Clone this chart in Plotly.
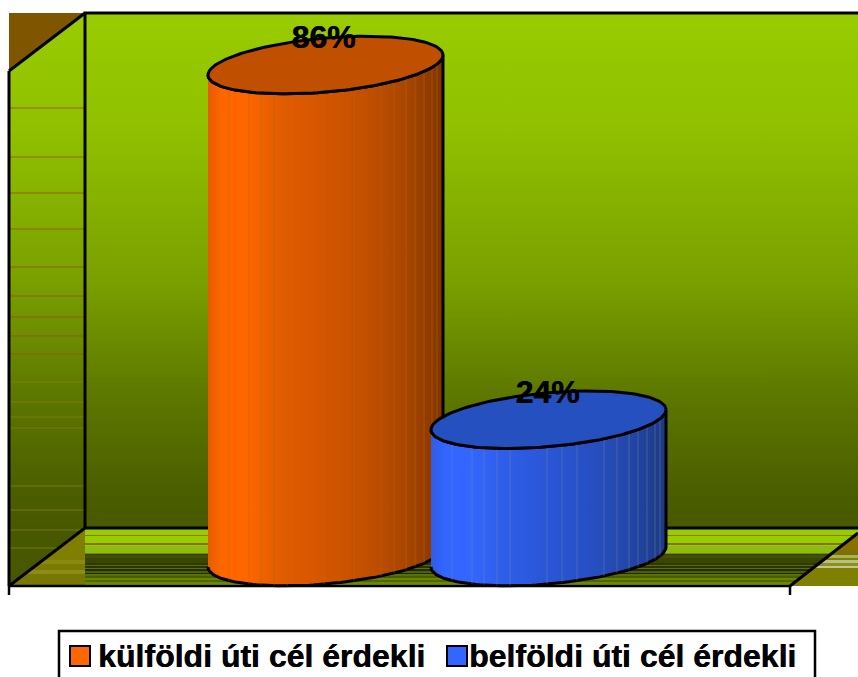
import numpy as np
import plotly.graph_objects as go

# ---------- data ----------
categories = ["külföldi úti cél érdekli", "belföldi úti cél érdekli"]
values = [86, 24]
labels = ["86%", "24%"]

# ---------- styling / layout helpers ----------
W, H = 858, 677
BASE_PX = 557.0      # pixel row of the value 0 level (centre of bottom ellipse)
PX_PER_UNIT = 5.72   # pixels per percent


def v(py):
    return (BASE_PX - py) / PX_PER_UNIT


centres = [325.5, 548.5]
A, B, K = 117.5, 27.0, 10.0
swatches = ["#FF6600", "#3366FF"]
top_cols = ["#C05000", "#2450C0"]
body_scales = [
    [[0, "#E65C00"], [0.06, "#FF6600"], [0.17, "#FF6600"], [0.3, "#E35C00"], [0.5, "#D45500"],
     [0.7, "#BF4E00"], [0.85, "#A84400"], [1, "#803400"]],
    [[0, "#2E5CE6"], [0.06, "#3366FF"], [0.17, "#3366FF"], [0.3, "#2E5EEA"], [0.5, "#2A56D6"],
     [0.7, "#264EC0"], [0.85, "#2246A8"], [1, "#1C3A84"]],
]
rib_cols = ["rgba(175,110,0,0.5)", "rgba(125,140,150,0.4)"]
rib_offsets = [21, 41, 53, 66, 79, 116, 131, 146, 173, 186, 198, 207, 216, 224, 229]

wall_stops = [(13, "#99CC00"), (130, "#90C000"), (280, "#7AA000"), (400, "#5C7600"),
              (500, "#4A5C00"), (528, "#485800")]
floor_bands = [
    (528, "#99CC00"), (535, "#8A7A00"), (536, "#99CC00"), (543, "#8A7000"), (545, "#99CC00"),
    (546, "#8DBB10"), (553, "#6F9000"), (554, "#333E00"), (555, "#445000"), (558, "#3A4500"),
    (563, "#2E3800"), (565, "#556A00"), (566, "#2A3400"), (568, "#5A7000"), (569, "#222C00"),
    (571, "#4D6000"), (573, "#1E2800"), (574, "#5A7000"), (576, "#4A5E00"), (578, "#6A8500"),
    (580, "#506600"), (582, "#6A8800"), (584, "#7F9F00"), (586, "#7F9F00"),
]
right_bands = [
    (528, "#99CC00"), (536, "#8A7000"), (550, "#807000"), (555, "#A8B060"), (558, "#808000"),
    (560, "#B8C080"), (563, "#909020"), (566, "#C0C890"), (568, "#808000"), (586, "#808000"),
]
left_bands = [
    (528, "#807F00"), (556, "#807F00"), (560, "#8A8A10"), (564, "#7A7A00"), (570, "#8C8C18"),
    (574, "#787800"), (586, "#808000"),
]
side_lines_brown = [108, 157, 193, 229, 267, 296, 317, 336, 354]
side_lines_pale = [382, 402, 417, 428, 486, 510, 530, 548]
legend_key_x = [80, 457]
legend_text_x = [97, 468]
LEGEND_Y = 656
HEAVY = "0.5px 0 0 #000000"


def hard_scale(bands):
    y0, y1 = bands[0][0], bands[-1][0]
    out = []
    for i, (y, c) in enumerate(bands[:-1]):
        out.append([(y - y0) / (y1 - y0), c])
        out.append([(bands[i + 1][0] - y0) / (y1 - y0), c])
    return out


def poly(xs, ys, **kw):
    return go.Scatter(x=xs, y=[v(p) for p in ys], mode="lines", fill="toself",
                      line=dict(width=0), hoverinfo="skip", showlegend=False, **kw)


def vgrad(stops):
    y0, y1 = stops[0][0], stops[-1][0]
    return dict(type="vertical", start=v(y0), stop=v(y1),
                colorscale=[[(y - y0) / (y1 - y0), c] for y, c in stops])


def line(xs, ys, width=3, color="#000000"):
    return go.Scatter(x=xs, y=[None if p is None else v(p) for p in ys], mode="lines",
                      line=dict(color=color, width=width), hoverinfo="skip", showlegend=False)


fig = go.Figure()

# walls
fig.add_trace(poly([85, 858, 858, 85], [13, 13, 528, 528], fillgradient=vgrad(wall_stops)))
fig.add_trace(poly([9, 85, 85, 9], [71, 13, 528, 586], fillgradient=vgrad(wall_stops)))
fig.add_trace(poly([9, 85, 9], [13, 13, 71], fillcolor="#7F5500"))

# side wall thin lines
xs, ys = [], []
for y in side_lines_brown:
    xs += [10, 84, None]
    ys += [y, y, None]
fig.add_trace(line(xs, ys, 1, "rgba(150,85,0,0.85)"))
xs, ys = [], []
for y in side_lines_pale:
    xs += [10, 84, None]
    ys += [y, y, None]
fig.add_trace(line(xs, ys, 1, "rgba(130,130,0,0.8)"))

# floor
fig.add_trace(poly([85, 858, 858, 790, 85], [528, 528, 533, 586, 586],
                   fillgradient=dict(type="vertical", start=v(528), stop=v(586),
                                     colorscale=hard_scale(floor_bands))))
fig.add_trace(poly([85, 9, 85], [528, 586, 586],
                   fillgradient=dict(type="vertical", start=v(528), stop=v(586),
                                     colorscale=hard_scale(left_bands))))
fig.add_trace(poly([858, 790, 858], [533, 586, 586],
                   fillgradient=dict(type="vertical", start=v(528), stop=v(586),
                                     colorscale=hard_scale(right_bands))))

# frame
fig.add_trace(line([858, 85, 85, 9, 9], [13, 13, 528, 586, 71], 3))
fig.add_trace(line([9, 85, None, 85, 858, None, 790, 858],
                   [71, 13, None, 528, 528, None, 586, 533], 3))
fig.add_trace(line([9, 790, None, 9, 9, None, 790, 790],
                   [586, 586, None, 586, 595, None, 586, 595], 2.5))

# cylinders
t = np.linspace(0, 2 * np.pi, 181)
for val, cx, scale, top, rib in zip(values, centres, body_scales, top_cols, rib_cols):
    ex = A * np.cos(t)
    ey = B * np.sin(t) - K * np.cos(t)          # pixel offsets, downward positive
    front = np.linspace(np.pi, 0, 91)
    fx = A * np.cos(front)
    fy = B * np.sin(front) - K * np.cos(front)
    body_x = list(cx + fx) + list(cx + fx[::-1])
    body_y = list(0 - fy / PX_PER_UNIT) + list(val - fy[::-1] / PX_PER_UNIT)
    fig.add_trace(go.Scatter(
        x=body_x, y=body_y, mode="lines", fill="toself", hoverinfo="skip", showlegend=False,
        line=dict(color="#000000", width=3),
        fillgradient=dict(type="horizontal", start=cx - A, stop=cx + A, colorscale=scale)))
    rx, ry = [], []
    for off in rib_offsets:
        c = (off - A) / A
        s = np.sqrt(1 - c * c)
        d = (B * s - K * c) / PX_PER_UNIT
        rx += [cx - A + off, cx - A + off, None]
        ry += [0 - d, val - d, None]
    fig.add_trace(go.Scatter(x=rx, y=ry, mode="lines", hoverinfo="skip", showlegend=False,
                             line=dict(color=rib, width=1)))
    fig.add_trace(go.Scatter(x=cx + ex, y=val - ey / PX_PER_UNIT, mode="lines", fill="toself",
                             fillcolor=top, hoverinfo="skip", showlegend=False,
                             line=dict(color="#000000", width=3)))

# data labels
fig.add_trace(go.Scatter(
    x=[323.5, 547.5], y=[val + 25 / PX_PER_UNIT for val in values], mode="text", text=labels,
    textposition="middle center", hoverinfo="skip", showlegend=False,
    textfont=dict(family="Liberation Sans", size=32, color="#000000", weight="bold",
                  shadow=HEAVY)))

# legend box, keys and texts
fig.add_trace(line([59, 59, 815, 815], [679, 631, 631, 679], 2.5))
for cat, kx, tx, col in zip(categories, legend_key_x, legend_text_x, swatches):
    fig.add_trace(go.Scatter(x=[kx], y=[v(LEGEND_Y)], mode="markers", name=cat, hoverinfo="skip",
                             showlegend=False,
                             marker=dict(symbol="square", size=20, color=col,
                                         line=dict(color="#000000", width=2))))
    fig.add_annotation(x=tx, y=v(LEGEND_Y), text=f"<b>{cat}</b>", showarrow=False,
                       xanchor="left", yanchor="middle", borderpad=0,
                       font=dict(family="Liberation Sans", size=32, color="#000000",
                                 shadow=HEAVY))

fig.update_layout(
    width=W, height=H, autosize=False,
    margin=dict(l=0, r=0, t=0, b=0, autoexpand=False),
    paper_bgcolor="#FFFFFF", plot_bgcolor="#FFFFFF", showlegend=False,
    xaxis=dict(range=[0, W], visible=False, fixedrange=True),
    yaxis=dict(range=[v(H), v(0)], visible=False, fixedrange=True),
)
fig.write_html("out.html", config=dict(displayModeBar=False),
               post_script="document.body.style.margin='0';document.body.style.overflow='hidden';")
